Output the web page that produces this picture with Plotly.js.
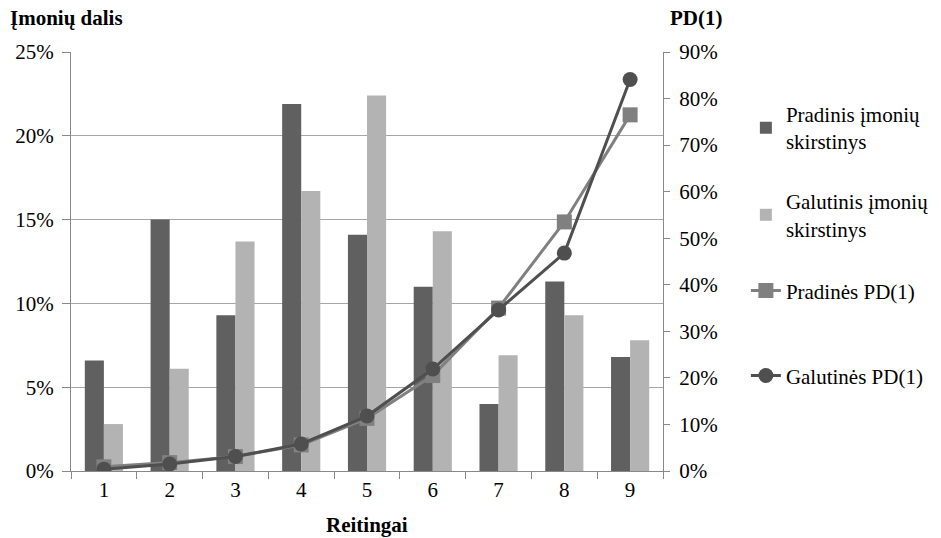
<!DOCTYPE html>
<html>
<head>
<meta charset="utf-8">
<script src="https://cdn.plot.ly/plotly-3.0.1.min.js"></script>
<style>html,body{margin:0;padding:0;background:#fff;}#chart{width:941px;height:538px;}
#chart text{font-family:'Liberation Serif','Times New Roman',serif !important;}</style>
</head>
<body>
<div id="chart"></div>
<script>
var categories = ["1","2","3","4","5","6","7","8","9"];
var pradinisSkirstinys = [0.066, 0.150, 0.093, 0.219, 0.141, 0.110, 0.040, 0.113, 0.068];
var galutinisSkirstinys = [0.028, 0.061, 0.137, 0.167, 0.224, 0.143, 0.069, 0.093, 0.078];
var pradinesPD = [0.009, 0.018, 0.031, 0.056, 0.113, 0.205, 0.350, 0.535, 0.765];
var galutinesPD = [0.004, 0.015, 0.031, 0.058, 0.118, 0.219, 0.346, 0.468, 0.841];
var seriesNames = ["Pradinis įmonių<br>skirstinys", "Galutinis įmonių<br>skirstinys", "Pradinės PD(1)", "Galutinės PD(1)"];

var FONT = "Liberation Serif";
function f(size){ return {family:FONT, size:size, color:"#000"}; }

var traces = [
  {type:"bar", x:categories, y:pradinisSkirstinys, name:seriesNames[0], marker:{color:"#606060"}, legend:"legend", yaxis:"y"},
  {type:"bar", x:categories, y:galutinisSkirstinys, name:seriesNames[1], marker:{color:"#b3b3b3"}, legend:"legend2", yaxis:"y"},
  {type:"scatter", mode:"lines+markers", x:categories, y:pradinesPD, name:seriesNames[2], yaxis:"y2", legend:"legend3",
   line:{color:"#808080", width:3}, marker:{symbol:"square", size:15, color:"#808080"}},
  {type:"scatter", mode:"lines+markers", x:categories, y:galutinesPD, name:seriesNames[3], yaxis:"y2", legend:"legend4",
   line:{color:"#4f4f4f", width:3}, marker:{symbol:"circle", size:15, color:"#4f4f4f"}}
];

function leg(y){ return {x:1.14, y:y, xanchor:"left", yanchor:"middle", font:f(21), bgcolor:"rgba(0,0,0,0)", borderwidth:0}; }

var layout = {
  width:941, height:538,
  margin:{l:71, r:278, t:52, b:67, autoexpand:false},
  paper_bgcolor:"#fff", plot_bgcolor:"#fff",
  font:{size:20, color:"#000"},
  barmode:"group", bargap:0.42, bargroupgap:0,
  showlegend:true,
  legend:leg(0.819), legend2:leg(0.611), legend3:leg(0.430), legend4:leg(0.227),
  xaxis:{type:"category", range:[-0.5, 8.5], tickson:"boundaries", ticks:"outside", ticklen:7, tickcolor:"#888",
         showline:true, linecolor:"#888", linewidth:1, showgrid:false, zeroline:false, tickfont:f(21)},
  yaxis:{range:[0,0.25], dtick:0.05, tickformat:".0%", showline:true, linecolor:"#888", linewidth:1,
         ticks:"outside", ticklen:8, tickcolor:"#888", showgrid:true, gridcolor:"#a6a6a6", gridwidth:1.3,
         zeroline:false, tickfont:f(21), ticklabelstandoff:4},
  yaxis2:{range:[0,0.9], dtick:0.1, tickformat:".0%", overlaying:"y", side:"right", showline:true,
          linecolor:"#888", linewidth:1, ticks:"outside", ticklen:6, tickcolor:"#888", showgrid:false,
          zeroline:false, tickfont:f(21), ticklabelstandoff:5},
  annotations:[
    {text:"<b>Įmonių dalis</b>", xref:"paper", yref:"paper", x:-0.107, y:1.081, xanchor:"left", yanchor:"middle", showarrow:false, font:f(21)},
    {text:"<b>PD(1)</b>", xref:"paper", yref:"paper", x:1.008, y:1.081, xanchor:"left", yanchor:"middle", showarrow:false, font:f(21)},
    {text:"<b>Reitingai</b>", xref:"paper", yref:"paper", x:0.5, y:-0.129, xanchor:"center", yanchor:"middle", showarrow:false, font:f(21)}
  ]
};

Plotly.newPlot("chart", traces, layout, {displayModeBar:false, staticPlot:true}).then(function(){
  document.querySelectorAll("#chart text").forEach(function(t){ t.style.fontFamily = "'Liberation Serif', serif"; });
});
</script>
</body>
</html>
